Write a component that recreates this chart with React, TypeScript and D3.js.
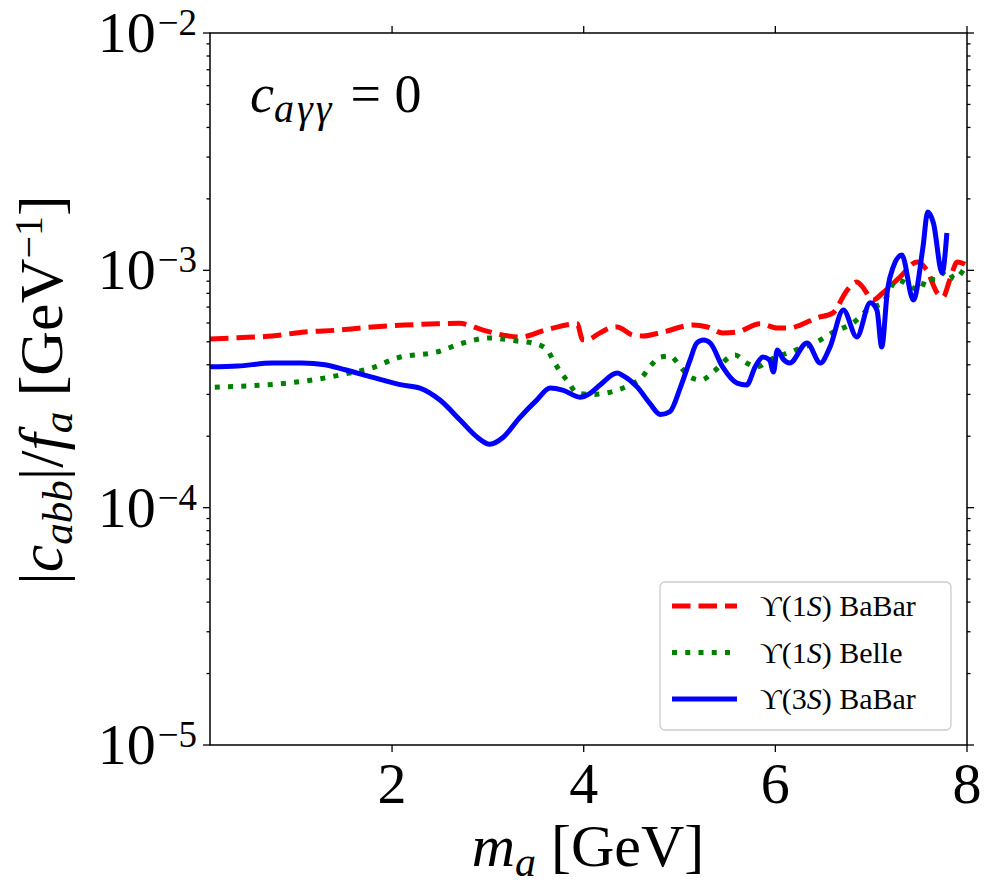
import React, { useRef, useEffect } from 'react';
import * as d3 from 'd3';

// Upsilon(1S) BaBar
const babar1sMass = [0.1, 0.39, 0.75, 1.09, 1.44, 1.79, 2.13, 2.47, 2.7, 2.95, 3.2, 3.34, 3.6, 3.93, 3.99, 4.03, 4.17, 4.27, 4.35, 4.51, 4.62, 4.83, 5.14, 5.29, 5.45, 5.6, 5.84, 6.02, 6.15, 6.26, 6.43, 6.6, 6.75, 6.85, 6.91, 7.02, 7.12, 7.3, 7.48, 7.58, 7.69, 7.75, 7.82, 7.9, 8.0];
const babar1sLimit = [5.14e-4, 5.2e-4, 5.29e-4, 5.5e-4, 5.6e-4, 5.77e-4, 5.88e-4, 5.95e-4, 5.98e-4, 5.6e-4, 5.3e-4, 5.24e-4, 5.6e-4, 5.95e-4, 5.1e-4, 5.09e-4, 5.45e-4, 5.71e-4, 5.77e-4, 5.34e-4, 5.29e-4, 5.5e-4, 5.88e-4, 5.77e-4, 5.45e-4, 5.5e-4, 5.95e-4, 5.71e-4, 5.71e-4, 5.88e-4, 6.3e-4, 6.61e-4, 8.26e-4, 8.93e-4, 8.51e-4, 7.5e-4, 8.02e-4, 9.37e-4, 1.084e-3, 1.003e-3, 8.02e-4, 7.72e-4, 9.11e-4, 1.084e-3, 1.05e-3];

// Upsilon(1S) Belle
const belle1sMass = [0.15, 0.91, 1.23, 1.51, 1.79, 2.05, 2.47, 2.74, 3.02, 3.3, 3.47, 3.62, 3.68, 3.75, 3.84, 3.93, 4.1, 4.35, 4.48, 4.61, 4.69, 4.8, 4.9, 5.01, 5.11, 5.23, 5.35, 5.58, 5.7, 5.81, 5.94, 6.18, 6.47, 6.59, 6.81, 6.99, 7.12, 7.27, 7.51, 7.58, 7.67, 7.79, 7.87, 7.96];
const belle1sLimit = [3.22e-4, 3.35e-4, 3.48e-4, 3.66e-4, 3.88e-4, 4.27e-4, 4.53e-4, 4.94e-4, 5.19e-4, 5.04e-4, 4.94e-4, 4.62e-4, 4.19e-4, 3.77e-4, 3.38e-4, 3.04e-4, 3.0e-4, 3.13e-4, 3.29e-4, 3.55e-4, 3.92e-4, 4.31e-4, 4.35e-4, 3.92e-4, 3.55e-4, 3.45e-4, 3.73e-4, 4.4e-4, 4.07e-4, 3.92e-4, 4.19e-4, 4.57e-4, 5.09e-4, 5.45e-4, 6.0e-4, 6.94e-4, 7.3e-4, 9.11e-4, 8.26e-4, 9.28e-4, 9.11e-4, 1.0e-3, 9.2e-4, 1.0e-3];

// Upsilon(3S) BaBar
const babar3sMass = [0.1, 0.39, 0.75, 1.06, 1.3, 1.51, 1.79, 2.1, 2.29, 2.5, 2.71, 2.89, 3.02, 3.16, 3.33, 3.51, 3.65, 3.78, 3.96, 4.07, 4.17, 4.35, 4.41, 4.56, 4.69, 4.8, 4.9, 5.01, 5.11, 5.18, 5.25, 5.32, 5.45, 5.6, 5.7, 5.79, 5.87, 5.94, 5.98, 6.02, 6.08, 6.15, 6.33, 6.47, 6.57, 6.71, 6.85, 6.99, 7.06, 7.11, 7.17, 7.23, 7.32, 7.44, 7.54, 7.59, 7.65, 7.74, 7.79];
const babar3sLimit = [3.92e-4, 3.95e-4, 4.07e-4, 4.07e-4, 4.0e-4, 3.81e-4, 3.55e-4, 3.29e-4, 3.19e-4, 2.84e-4, 2.34e-4, 1.98e-4, 1.85e-4, 1.98e-4, 2.39e-4, 2.84e-4, 3.19e-4, 3.13e-4, 2.92e-4, 3.04e-4, 3.29e-4, 3.69e-4, 3.6e-4, 3.22e-4, 2.75e-4, 2.47e-4, 2.54e-4, 3.22e-4, 4.19e-4, 4.94e-4, 5.09e-4, 4.94e-4, 3.92e-4, 3.35e-4, 3.29e-4, 3.92e-4, 4.31e-4, 4.19e-4, 3.73e-4, 4.62e-4, 4.23e-4, 4.07e-4, 4.94e-4, 4.07e-4, 4.75e-4, 6.8e-4, 5.24e-4, 7.3e-4, 6.8e-4, 4.75e-4, 8.26e-4, 1.033e-3, 1.16e-3, 7.5e-4, 1.25e-3, 1.76e-3, 1.58e-3, 9.75e-4, 1.437e-3];

const xTicks = [2, 4, 6, 8];
const yDecades = [-5, -4, -3, -2];

const FONT = '"Liberation Serif", "DejaVu Serif", serif';

export default function App() {
  const svgRef = useRef<SVGSVGElement>(null);

  useEffect(() => {
    if (!svgRef.current) return;
    const svg = d3.select(svgRef.current);
    svg.selectAll('*').remove();

    const width = 995;
    const height = 890;
    const margin = { top: 33, right: 28, bottom: 145, left: 210 };
    const x0 = margin.left, x1 = width - margin.right;
    const y0 = height - margin.bottom, y1 = margin.top;

    const x = d3.scaleLinear().domain([0.1, 8]).range([x0, x1]);
    const y = d3.scaleLog().domain([1e-5, 1e-2]).range([y0, y1]);

    svg.append('rect').attr('width', width).attr('height', height).attr('fill', '#fff');

    svg.append('clipPath').attr('id', 'plot-clip')
      .append('rect')
      .attr('x', x0).attr('y', y1)
      .attr('width', x1 - x0).attr('height', y0 - y1);

    const series = [
      { mass: babar1sMass, limit: babar1sLimit, color: '#ff0000', dash: '18.5,8', label: '1', exp: 'BaBar' },
      { mass: belle1sMass, limit: belle1sLimit, color: '#008000', dash: '5,8.25', label: '1', exp: 'Belle' },
      { mass: babar3sMass, limit: babar3sLimit, color: '#0000ff', dash: null, label: '3', exp: 'BaBar' }
    ];

    const line = d3.line<[number, number]>()
      .x(d => x(d[0]))
      .y(d => y(d[1]))
      .curve(d3.curveMonotoneX);

    const plot = svg.append('g').attr('clip-path', 'url(#plot-clip)');
    series.forEach(s => {
      const pts = s.mass.map((m, i) => [m, s.limit[i]] as [number, number]);
      plot.append('path')
        .datum(pts)
        .attr('fill', 'none')
        .attr('stroke', s.color)
        .attr('stroke-width', 5)
        .attr('stroke-linejoin', 'round')
        .attr('stroke-dasharray', s.dash)
        .attr('d', line);
    });

    // ticks, outward on all four sides
    const tickG = svg.append('g').attr('stroke', '#000').attr('stroke-width', 1.3);
    xTicks.forEach(t => {
      const px = x(t);
      tickG.append('line').attr('x1', px).attr('x2', px).attr('y1', y0).attr('y2', y0 + 7);
      tickG.append('line').attr('x1', px).attr('x2', px).attr('y1', y1).attr('y2', y1 - 7);
    });
    yDecades.forEach(k => {
      const py = y(Math.pow(10, k));
      tickG.append('line').attr('x1', x0).attr('x2', x0 - 7).attr('y1', py).attr('y2', py);
      tickG.append('line').attr('x1', x1).attr('x2', x1 + 7).attr('y1', py).attr('y2', py);
      if (k < -2) {
        for (let m = 2; m <= 9; m++) {
          const pm = y(m * Math.pow(10, k));
          tickG.append('line').attr('x1', x0).attr('x2', x0 - 3.5).attr('y1', pm).attr('y2', pm);
          tickG.append('line').attr('x1', x1).attr('x2', x1 + 3.5).attr('y1', pm).attr('y2', pm);
        }
      }
    });

    // frame
    svg.append('rect')
      .attr('x', x0).attr('y', y1)
      .attr('width', x1 - x0).attr('height', y0 - y1)
      .attr('fill', 'none').attr('stroke', '#000').attr('stroke-width', 1.5);

    // tick labels
    xTicks.forEach(t => {
      svg.append('text')
        .attr('x', x(t)).attr('y', y0 + 58)
        .attr('text-anchor', 'middle')
        .attr('font-family', FONT).attr('font-size', 58)
        .text(String(t));
    });
    yDecades.forEach(k => {
      const t = svg.append('text')
        .attr('x', 197).attr('y', y(Math.pow(10, k)) + 19)
        .attr('text-anchor', 'end')
        .attr('font-family', FONT).attr('font-size', 58);
      t.append('tspan').text('10');
      t.append('tspan').attr('dx', 2).attr('dy', -17).attr('font-size', 37).text('\u2212' + Math.abs(k));
    });

    // axis labels
    const xl = svg.append('text')
      .attr('x', 588).attr('y', 866)
      .attr('text-anchor', 'middle')
      .attr('font-family', FONT).attr('font-size', 60);
    xl.append('tspan').attr('font-style', 'italic').text('m');
    xl.append('tspan').attr('font-style', 'italic').attr('font-size', 42).attr('dy', 10).text('a');
    xl.append('tspan').attr('dy', -10).text(' [GeV]');

    const yl = svg.append('text')
      .attr('transform', 'translate(62,390) rotate(-90)')
      .attr('text-anchor', 'middle')
      .attr('font-family', FONT).attr('font-size', 62);
    yl.append('tspan').text('|');
    yl.append('tspan').attr('font-style', 'italic').text('c');
    yl.append('tspan').attr('font-style', 'italic').attr('font-size', 43).attr('dy', 10).text('abb');
    yl.append('tspan').attr('dy', -10).text('|/');
    yl.append('tspan').attr('font-style', 'italic').text('f');
    yl.append('tspan').attr('font-style', 'italic').attr('font-size', 43).attr('dy', 10).text('a');
    yl.append('tspan').attr('dy', -10).text(' [GeV');
    yl.append('tspan').attr('font-size', 40).attr('dy', -20).text('\u22121');
    yl.append('tspan').attr('dy', 20).text(']');

    // annotation
    const ann = svg.append('text')
      .attr('x', 250).attr('y', 112)
      .attr('font-family', FONT).attr('font-size', 54);
    ann.append('tspan').attr('font-style', 'italic').text('c');
    ann.append('tspan').attr('font-style', 'italic').attr('font-size', 40).attr('dy', 10).attr('letter-spacing', 3).text('a\u03b3\u03b3');
    ann.append('tspan').attr('dx', 16).attr('dy', -10).text('= 0');

    // legend
    const lg = svg.append('g');
    lg.append('rect')
      .attr('x', 660).attr('y', 582).attr('width', 291).attr('height', 148)
      .attr('rx', 5).attr('fill', '#fff').attr('fill-opacity', 0.8)
      .attr('stroke', '#cccccc').attr('stroke-width', 1.3);
    series.forEach((s, i) => {
      const ry = 606 + i * 46.5;
      lg.append('line')
        .attr('x1', 672).attr('x2', 737).attr('y1', ry).attr('y2', ry)
        .attr('stroke', s.color).attr('stroke-width', 5)
        .attr('stroke-dasharray', s.dash);
      const t = lg.append('text')
        .attr('x', 760).attr('y', ry + 10)
        .attr('font-family', FONT).attr('font-size', 30);
      t.append('tspan').text('\u03d2(' + s.label);
      t.append('tspan').attr('font-style', 'italic').text('S');
      t.append('tspan').text(') ' + s.exp);
    });
  }, []);

  return (
    <svg
      ref={svgRef}
      width={995}
      height={890}
      viewBox="0 0 995 890"
      style={{ position: 'absolute', left: 0, top: 0, display: 'block' }}
    />
  );
}
